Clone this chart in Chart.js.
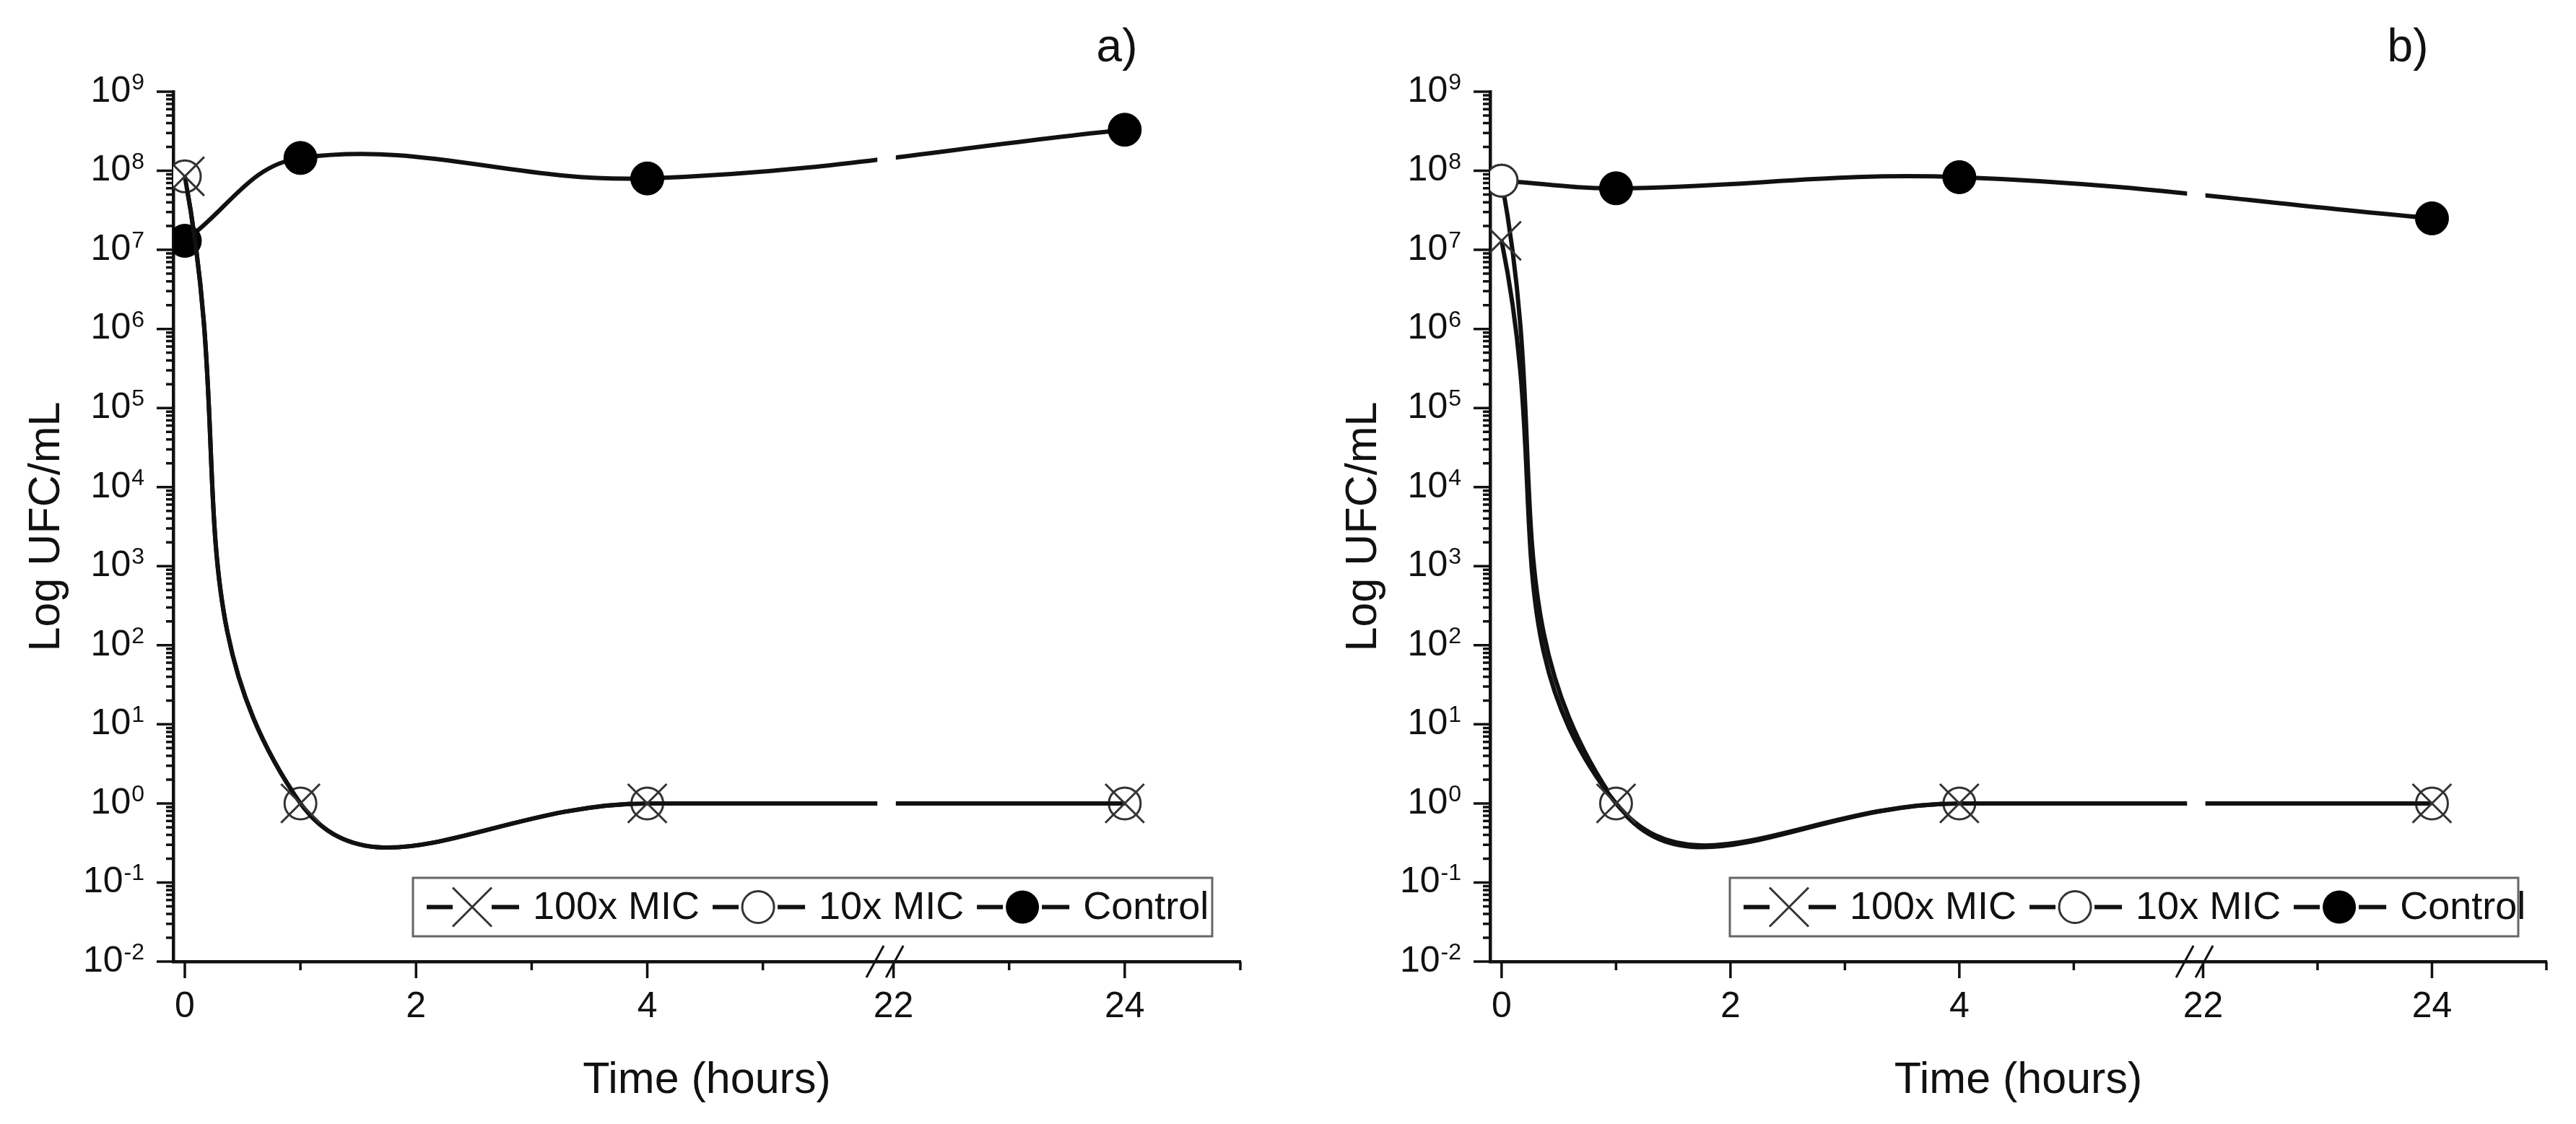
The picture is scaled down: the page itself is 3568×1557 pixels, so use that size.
<!DOCTYPE html>
<html>
<head>
<meta charset="utf-8">
<script src="https://cdn.jsdelivr.net/npm/chart.js@4.4.1/dist/chart.umd.min.js"></script>
<style>
  html, body { margin: 0; padding: 0; background: #fff; }
  body { width: 3568px; height: 1557px; position: relative; overflow: hidden; }
  canvas { position: absolute; top: 0; }
  #chartA { left: 0; }
  #chartB { left: 1784px; }
</style>
</head>
<body>
<canvas id="chartA" width="1784" height="1557"></canvas>
<canvas id="chartB" width="1784" height="1557"></canvas>
<script>
// sampling times (hours) and series
var hours = [0, 1, 4, 24];
var seriesNames = ['100x MIC', '10x MIC', 'Control'];

// panel a) - UFC/mL
var a100x = [8.5e7, 1, 1, 1];
var a10x = [8.5e7, 1, 1, 1];
var aControl = [1.3e7, 1.45e8, 8e7, 3.3e8];

// panel b) - UFC/mL
var b100x = [1.3e7, 1, 1, 1];
var b10x = [7.5e7, 1, 1, 1];
var bControl = [7.5e7, 6e7, 8.3e7, 2.5e7];

// axis ticks
var xMajorHours = [0, 2, 4, 22, 24];
var xMinorHours = [1, 3, 5, 23, 25];
var yDecades = [-2, -1, 0, 1, 2, 3, 4, 5, 6, 7, 8, 9];

// time axis is broken between 5 h and 22 h
var BREAK_SHIFT = 15.87;
function axisX(h){
	return h < 10 ? h : h - BREAK_SHIFT;
}

var FONT = '"Liberation Sans", Arial, sans-serif';
var INK = '#111';
var MARK = '#333';

function points(values){
	return hours.map(function(h, i){ return {x: axisX(h), y: values[i]}; });
}

function drawMarker(ctx, kind, x, y){
	ctx.save();
	if (kind === 0) {
		var d = 27;
		ctx.strokeStyle = MARK; ctx.lineWidth = 3;
		ctx.beginPath();
		ctx.moveTo(x - d, y - d); ctx.lineTo(x + d, y + d);
		ctx.moveTo(x - d, y + d); ctx.lineTo(x + d, y - d);
		ctx.stroke();
	} else if (kind === 1) {
		ctx.fillStyle = '#fff'; ctx.strokeStyle = MARK; ctx.lineWidth = 3;
		ctx.beginPath(); ctx.arc(x, y, 22, 0, Math.PI * 2); ctx.fill(); ctx.stroke();
	} else {
		ctx.fillStyle = '#000';
		ctx.beginPath(); ctx.arc(x, y, 23, 0, Math.PI * 2); ctx.fill();
	}
	ctx.restore();
}

var axisDecor = {
	id: 'axisDecor',
	afterDatasetsDraw: function(chart){
		// white gap in the curves where the axis is broken
		var ctx = chart.ctx, a = chart.chartArea, xs = chart.scales.x;
		var x1 = xs.getPixelForValue(5.99), x2 = xs.getPixelForValue(6.15);
		ctx.save();
		ctx.fillStyle = '#fff';
		ctx.fillRect(x1, a.top, x2 - x1, a.bottom - a.top - 3);
		ctx.restore();
	},
	afterDraw: function(chart, args, opts){
		var ctx = chart.ctx, a = chart.chartArea;
		var xs = chart.scales.x, ys = chart.scales.y;
		ctx.save();
		ctx.strokeStyle = INK;
		ctx.fillStyle = INK;
		ctx.lineWidth = 3.5;

		// y ticks (major + minor)
		ctx.beginPath();
		yDecades.forEach(function(n){
			var y = ys.getPixelForValue(Math.pow(10, n));
			ctx.moveTo(a.left - 23, y); ctx.lineTo(a.left, y);
			if (n < 9) {
				for (var k = 2; k <= 9; k++) {
					var ym = ys.getPixelForValue(k * Math.pow(10, n));
					ctx.moveTo(a.left - 10, ym); ctx.lineTo(a.left, ym);
				}
			}
		});
		// x ticks
		xMajorHours.forEach(function(h){
			var x = xs.getPixelForValue(axisX(h));
			ctx.moveTo(x, a.bottom); ctx.lineTo(x, a.bottom + 23);
		});
		xMinorHours.forEach(function(h){
			var x = xs.getPixelForValue(axisX(h));
			ctx.moveTo(x, a.bottom); ctx.lineTo(x, a.bottom + 12);
		});
		ctx.stroke();

		// break marks
		ctx.lineWidth = 3;
		ctx.beginPath();
		[5.97, 6.14].forEach(function(u){
			var x = xs.getPixelForValue(u);
			ctx.moveTo(x - 12, a.bottom + 22); ctx.lineTo(x + 12, a.bottom - 22);
		});
		ctx.stroke();

		yDecades.forEach(function(n){
			var y = ys.getPixelForValue(Math.pow(10, n));
			var right = a.left - 40;
			ctx.font = '32px ' + FONT;
			var sup = String(n), w2 = ctx.measureText(sup).width;
			ctx.textAlign = 'left';
			ctx.textBaseline = 'alphabetic';
			ctx.fillText(sup, right - w2, y - 3);
			ctx.font = '50px ' + FONT;
			ctx.textAlign = 'right';
			ctx.textBaseline = 'middle';
			ctx.fillText('10', right - w2 - 1, y);
		});

		ctx.font = '50px ' + FONT;
		ctx.textAlign = 'center';
		ctx.textBaseline = 'middle';
		xMajorHours.forEach(function(h){
			ctx.fillText(String(h), xs.getPixelForValue(axisX(h)), a.bottom + 63);
		});

		// axis titles
		ctx.font = '61px ' + FONT;
		ctx.fillText('Time (hours)', (a.left + a.right) / 2, a.bottom + 165);
		ctx.save();
		ctx.translate(a.left - 175, (a.top + a.bottom) / 2);
		ctx.rotate(-Math.PI / 2);
		ctx.fillText('Log UFC/mL', 0, 0);
		ctx.restore();

		// panel label
		ctx.font = '64px ' + FONT;
		ctx.fillText(opts.label, a.right - opts.labelInset, 67);

		// legend
		var bx = a.left + 332, by = a.bottom - 116, bw = a.right - 39 - bx, bh = 81;
		ctx.strokeStyle = '#666'; ctx.lineWidth = 3;
		ctx.strokeRect(bx, by, bw, bh);
		var cy = by + bh / 2, x = bx + 19;
		ctx.font = '54px ' + FONT;
		ctx.textAlign = 'left';
		seriesNames.forEach(function(name, i){
			ctx.strokeStyle = INK; ctx.lineWidth = 6;
			ctx.beginPath();
			ctx.moveTo(x, cy); ctx.lineTo(x + 36, cy);
			ctx.moveTo(x + 90, cy); ctx.lineTo(x + 128, cy);
			ctx.stroke();
			drawMarker(ctx, i, x + 63, cy);
			ctx.fillStyle = INK;
			ctx.fillText(name, x + 147, cy + 2);
			x += 147 + ctx.measureText(name).width + 18;
		});
		ctx.restore();
	}
};

function makePanel(id, label, labelInset, v100, v10, vCtl, pad){
	var line = {borderColor: INK, borderWidth: 6, fill: false, cubicInterpolationMode: 'default'};
	var ctx = document.getElementById(id).getContext('2d');
	return new Chart(ctx, {
		type: 'line',
		data: {
			datasets: [
				Object.assign({label: seriesNames[0], data: points(v100), tension: 0.45,
					pointStyle: 'crossRot', pointRadius: 38, pointBorderWidth: 3,
					pointBorderColor: MARK, pointBackgroundColor: 'transparent'}, line),
				Object.assign({label: seriesNames[1], data: points(v10), tension: 0.45,
					pointStyle: 'circle', pointRadius: 22, pointBorderWidth: 3,
					pointBorderColor: MARK, pointBackgroundColor: '#fff'}, line),
				Object.assign({label: seriesNames[2], data: points(vCtl), tension: 0.38,
					pointStyle: 'circle', pointRadius: 23, pointBorderWidth: 1,
					pointBorderColor: '#000', pointBackgroundColor: '#000'}, line)
			]
		},
		options: {
			responsive: false,
			animation: false,
			devicePixelRatio: 1,
			layout: {padding: pad},
			scales: {
				x: {type: 'linear', min: -0.1, max: axisX(25),
					grid: {display: false}, ticks: {display: false},
					border: {display: true, color: INK, width: 4.5}},
				y: {type: 'logarithmic', min: 1e-2, max: 1e9,
					grid: {display: false}, ticks: {display: false},
					border: {display: true, color: INK, width: 4.5}}
			},
			plugins: {
				legend: {display: false},
				tooltip: {enabled: false},
				axisDecor: {label: label, labelInset: labelInset}
			}
		},
		plugins: [axisDecor]
	});
}

makePanel('chartA', 'a)', 171, a100x, a10x, aControl, {left: 232, right: 66, top: 127, bottom: 217});
makePanel('chartB', 'b)', 192, b100x, b10x, bControl, {left: 272, right: 24, top: 127, bottom: 217});
</script>
</body>
</html>
